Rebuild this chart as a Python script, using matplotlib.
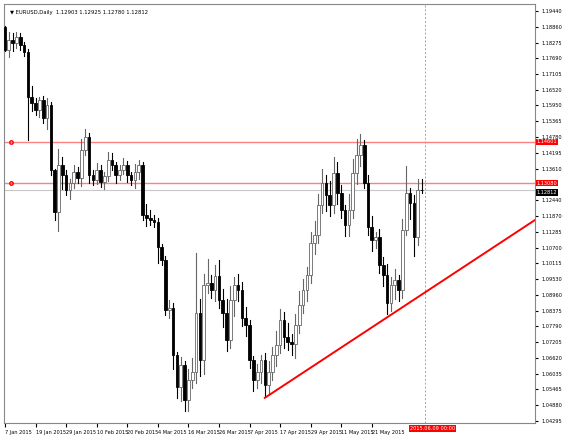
import matplotlib.pyplot as plt
from matplotlib.patches import Rectangle

# EURUSD daily closes, 7 Jan 2015 .. 9 Jun 2015
first_open = 1.18849
closes = [
    1.18000, 1.18368, 1.18258, 1.18479, 1.18184, 1.17925, 1.16263, 1.16041, 1.15783, 1.16152,
    1.15487, 1.15967, 1.13566, 1.12015, 1.13751, 1.13382, 1.12827, 1.13086, 1.13492, 1.13271,
    1.14305, 1.14785, 1.13382, 1.13197, 1.13566, 1.13123, 1.13345, 1.13936, 1.13751, 1.13382,
    1.13566, 1.13751, 1.13382, 1.13197, 1.13492, 1.13751,
    1.11904, 1.11793, 1.11719, 1.11645, 1.10722, 1.10242, 1.08395, 1.08469, 1.06732, 1.05550,
    1.06363, 1.05070, 1.05809, 1.06104, 1.08284, 1.06548, 1.09319, 1.09393, 1.09134, 1.09649,
    1.08764, 1.08284, 1.07286, 1.08764, 1.09319, 1.09134, 1.08099, 1.07840,
    1.06548, 1.05809, 1.06104, 1.06548, 1.05624, 1.06104, 1.06732, 1.07102, 1.08025, 1.07398,
    1.07213, 1.07139, 1.07840, 1.08579, 1.09134, 1.09688, 1.10870, 1.11165, 1.12273, 1.13086,
    1.12643, 1.12273, 1.13455,
    1.12717, 1.12089, 1.11535, 1.12089, 1.13455, 1.14121, 1.14490, 1.13086, 1.11461, 1.10981,
    1.11091, 1.10057, 1.09688, 1.08654, 1.09319, 1.09504, 1.09134, 1.11350, 1.12717, 1.12347,
    1.11091, 1.12827, 1.12812,
]
opens = [first_open] + closes[:-1]
# wick lengths in pips above / below the body
upper_wick = [
    5, 30, 25, 20, 15, 10, 10, 40, 20, 10, 15, 25, 10, 5, 60, 30, 20, 15, 25, 20,
    40, 30, 15, 20, 25, 20, 15, 30, 25, 10, 20, 25, 15, 10, 30, 20,
    10, 40, 30, 20, 15, 10, 15, 30, 20, 10, 30, 15, 40, 50, 220, 50, 40, 90, 30, 40,
    60, 40, 50, 50, 30, 40, 30, 40, 20, 15, 30, 20, 25, 40, 30, 50, 40, 30,
    50, 30, 40, 50, 40, 30, 40, 50, 40, 50, 30, 50, 60,
    40, 30, 20, 60, 50, 60, 40, 20, 30, 40, 20, 30, 30, 40, 30, 40, 20, 40, 100, 20,
    30, 40, 40,
]
lower_wick = [
    5, 25, 30, 20, 20, 15, 160, 30, 20, 25, 20, 40, 20, 30, 70, 50, 20, 35, 20, 20,
    30, 20, 30, 20, 15, 20, 25, 20, 20, 30, 20, 15, 25, 20, 30, 25,
    20, 30, 20, 20, 60, 20, 20, 30, 50, 40, 50, 40, 40, 30, 40, 60, 50, 30, 30, 40,
    30, 50, 40, 30, 60, 40, 30, 40, 30, 40, 30, 40, 40, 30, 30, 40, 30, 40,
    30, 40, 50, 30, 30, 40, 30, 40, 30, 30, 60, 40, 30,
    40, 30, 40, 40, 30, 40, 40, 20, 30, 40, 30, 30, 40, 40, 30, 50, 40, 30, 20, 60,
    70, 30, 10,
]
date_labels = ['7 Jan 2015', '19 Jan 2015', '29 Jan 2015', '10 Feb 2015', '20 Feb 2015',
               '4 Mar 2015', '16 Mar 2015', '26 Mar 2015', '7 Apr 2015', '17 Apr 2015',
               '29 Apr 2015', '11 May 2015', '21 May 2015']
price_ticks = [1.19440, 1.18860, 1.18275, 1.17690, 1.17105, 1.16520, 1.15950, 1.15365,
               1.14780, 1.14195, 1.13610, 1.13025, 1.12440, 1.11870, 1.11285, 1.10700,
               1.10115, 1.09530, 1.08960, 1.08375, 1.07790, 1.07205, 1.06620, 1.06035,
               1.05465, 1.04880, 1.04295]
hidden_ticks = [1.13025]  # covered by the level labels in the terminal
levels = [1.14601, 1.13080]
last_price = 1.12812
trend_start = (68, 1.0515)
trend_end = (138.7, 1.1172)

fig = plt.figure(figsize=(5.64, 4.40), dpi=100)
ax = fig.add_axes([4 / 564, 17 / 440, 531 / 564, 419 / 440])
ax.set_xlim(-0.26, 138.7)
ax.set_ylim(1.04220, 1.19699)

pip = 0.0001
w = 0.7
for i, (o, c) in enumerate(zip(opens, closes)):
    top, bot = max(o, c), min(o, c)
    bear = c < o
    ax.plot([i, i], [bot - lower_wick[i] * pip, top + upper_wick[i] * pip],
            color='black' if bear else '#666666', lw=0.8, zorder=2)
    ax.add_patch(Rectangle((i - w / 2, bot), w, max(top - bot, 0.0002),
                           facecolor='black' if bear else 'white',
                           edgecolor='black' if bear else '#666666', lw=0.6, zorder=3))

for lv in levels:
    ax.axhline(lv, color='#ff8080', lw=1.0, zorder=1)
    ax.plot(1.5, lv, marker='o', ms=2.5, mfc='none', mec='red', clip_on=False)
ax.axhline(last_price, color='#c8c8c8', lw=0.8, zorder=1)
ax.axvline(len(closes), color='#f08080', lw=0.7, ls=(0, (2, 2)), zorder=1)
ax.plot([trend_start[0], trend_end[0]], [trend_start[1], trend_end[1]], color='red', lw=1.4, zorder=4)

ax.yaxis.tick_right()
ax.set_yticks(price_ticks)
ax.set_yticklabels(['' if p in hidden_ticks else f'{p:.5f}' for p in price_ticks], fontsize=3.6)
ax.tick_params(axis='y', length=2, pad=3)
ax.set_xticks([i * 8 for i in range(len(date_labels))])
ax.set_xticklabels(date_labels, fontsize=3.6, ha='left')
ax.tick_params(axis='x', length=3, pad=2)
for sp in ax.spines.values():
    sp.set_color('#888888')

box = dict(boxstyle='square,pad=0.15', lw=0)
for lv in levels:
    ax.text(1.003, lv, f'{lv:.5f}', transform=ax.get_yaxis_transform(), fontsize=3.6,
            color='white', va='center', ha='left', bbox=dict(box, fc='red'))
ax.text(1.003, last_price - 0.0008, f'{last_price:.5f}', transform=ax.get_yaxis_transform(), fontsize=3.6,
        color='white', va='center', ha='left', bbox=dict(box, fc='black'))
ax.text(len(closes) - 4, 1.04220 - 0.0012, '2015.06.09 00:00', fontsize=3.6, color='white', va='top', ha='left',
        bbox=dict(box, fc='red'), clip_on=False)
ax.text(0.012, 0.985, '\u25bc EURUSD,Daily  1.12903 1.12925 1.12780 1.12812', transform=ax.transAxes,
        fontsize=3.8, va='top')

fig.savefig('out.png', dpi=100)
